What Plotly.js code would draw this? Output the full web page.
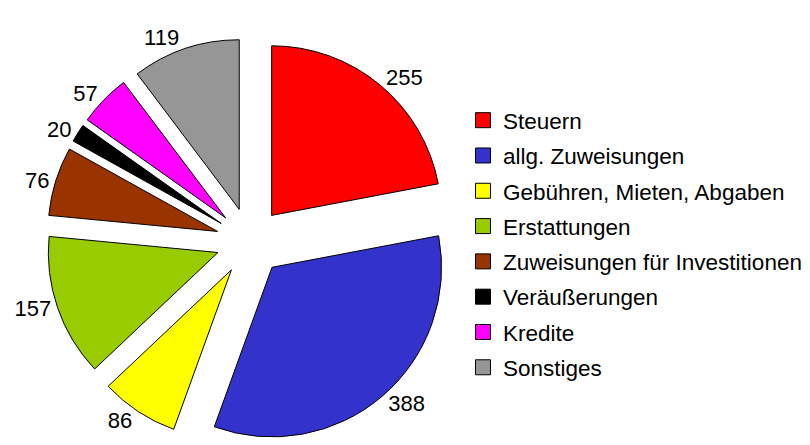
<!DOCTYPE html>
<html>
<head>
<meta charset="utf-8">
<script src="https://cdn.plot.ly/plotly-3.0.1.min.js"></script>
<style>html,body{margin:0;padding:0;background:#fff;}#chart{width:810px;height:445px;}</style>
</head>
<body>
<div id="chart"></div>
<script>
const categories = ["Steuern", "allg. Zuweisungen", "Gebühren, Mieten, Abgaben", "Erstattungen", "Zuweisungen für Investitionen", "Veräußerungen", "Kredite", "Sonstiges"];
const amounts = [255, 388, 86, 157, 76, 20, 57, 119];
const colors = ["#FF0000", "#3333CC", "#FFFF00", "#99CC00", "#993300", "#000000", "#FF00FF", "#969696"];

const FONT = "Liberation Sans, Arial, sans-serif";

const pieTrace = {
  type: "pie",
  labels: categories,
  values: amounts,
  sort: false,
  direction: "clockwise",
  rotation: 0,
  pull: 0.2,
  marker: {colors: colors, line: {color: "#000000", width: 1}},
  textinfo: "value",
  textposition: "outside",
  textfont: {family: FONT, size: 22, color: "#000000"},
  showlegend: false,
  hoverinfo: "label+value",
  domain: {x: [0.0568, 0.5605], y: [0, 1]}
};

const legendTraces = categories.map((name, i) => ({
  type: "scatter",
  mode: "markers",
  x: [null],
  y: [null],
  name: name,
  legendgroup: "g" + i,
  marker: {symbol: "square", size: 15, color: colors[i], line: {color: "#000000", width: 1}},
  hoverinfo: "skip"
}));

const layout = {
  width: 810,
  height: 445,
  margin: {l: 0, r: 0, t: 38, b: 0},
  paper_bgcolor: "#ffffff",
  plot_bgcolor: "#ffffff",
  font: {family: FONT, size: 22, color: "#000000"},
  showlegend: true,
  xaxis: {visible: false},
  yaxis: {visible: false},
  legend: {
    x: 0.5716, xanchor: "left",
    y: 0.85, yanchor: "top",
    font: {family: FONT, size: 22.5, color: "#000000"},
    tracegroupgap: 3.05,
    traceorder: "grouped",
    bgcolor: "rgba(0,0,0,0)"
  }
};

Plotly.newPlot("chart", [pieTrace].concat(legendTraces), layout, {displayModeBar: false, staticPlot: true});
</script>
</body>
</html>
